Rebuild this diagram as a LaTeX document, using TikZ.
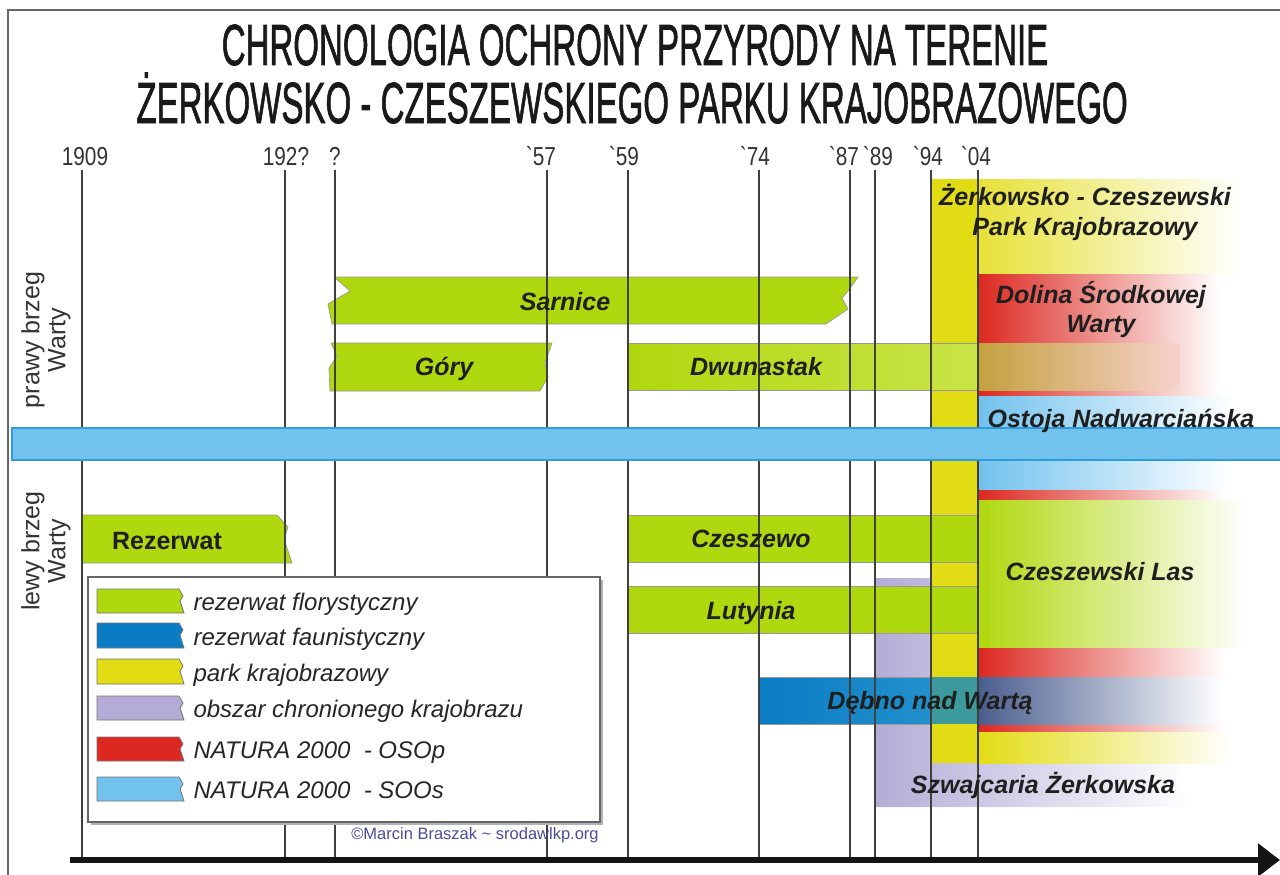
\documentclass[tikz,border=0pt]{standalone}
\usepackage{fontspec}
\usepackage{graphicx}
\setmainfont{Liberation Sans}
\newfontfamily\yearfont[FakeStretch=0.8,Ligatures=TeXOff]{Liberation Sans}
\newfontfamily\titlefont[FakeBold=1.6]{Liberation Sans}
\usetikzlibrary{arrows.meta}
\definecolor{cgreen}{HTML}{B0D80E}
\definecolor{cgreenlt}{HTML}{C8E448}
\definecolor{cfauna}{HTML}{0A7CC4}
\definecolor{cfaunalt}{HTML}{2290CC}
\definecolor{cteal}{HTML}{3C9A9C}
\definecolor{cslate}{HTML}{4A5E8E}
\definecolor{cslatelt}{HTML}{62708E}
\definecolor{cyellow}{HTML}{E2DC14}
\definecolor{clav}{HTML}{B4ACD6}
\definecolor{cred}{HTML}{DC2820}
\definecolor{csky}{HTML}{72C2EE}
\definecolor{cskyb}{HTML}{2E9CDC}
\definecolor{cgrey}{HTML}{A2A8B8}
\definecolor{ctan}{HTML}{C4A03E}
\definecolor{ctanlt}{HTML}{CCAE54}
\definecolor{cpink}{HTML}{F6D2CC}
\definecolor{colive}{HTML}{C6BC48}
\definecolor{ccopy}{HTML}{4B4BA0}
\begin{document}
\begin{tikzpicture}[x=1pt,y=-1pt,
  bar/.style={draw=black!40, line width=0.7},
  vline/.style={draw=black!75, line width=1.2},
  barlabel/.style={anchor=base, font=\fontsize{25}{27}\selectfont\bfseries\itshape, text=black!88},
  reglabel/.style={anchor=base, font=\fontsize{25}{27}\selectfont\bfseries, text=black!88},
  legtext/.style={anchor=base west, font=\fontsize{24}{27}\selectfont\itshape, text=black!85},
  yearlab/.style={anchor=base, font=\yearfont\fontsize{26}{28}\selectfont, text=black!80},
  sidelab/.style={rotate=90, align=center, font=\fontsize{25}{26}\selectfont, text=black!80},
  titlelab/.style={anchor=base, font=\titlefont\fontsize{58}{60}\selectfont, text=black!90},
  swatch/.style={draw=black!55, line width=0.8},
  fadeto/.style={left color=#1, middle color=#1!75!white, right color=white},
]
\useasboundingbox (0,0) rectangle (1280,875);
% frame
\draw[black!60, line width=1.5] (8,875) -- (8,10) -- (1280,10);

% title
\node[titlelab] (title1) at (635,65) {\scalebox{0.57}[1]{CHRONOLOGIA OCHRONY PRZYRODY NA TERENIE}};
\node[titlelab] (title2) at (632,123) {\scalebox{0.57}[1]{ŻERKOWSKO - CZESZEWSKIEGO PARKU KRAJOBRAZOWEGO}};

% right-side regions
\path[left color=cyellow, middle color=cyellow!80!white, right color=white] (931,179) rectangle (1240,274);
\path[left color=cred, middle color=cred!65!white, right color=white] (978,274) rectangle (1220,396);
\path[left color=csky, middle color=cgrey, right color=white] (978,396) rectangle (1235,428);
\path[left color=clav, middle color=clav!70!white, right color=white]
  (875,578) -- (931,578) -- (931,763) -- (1183,763) -- (1176,781) -- (1193,807) -- (875,807) -- cycle;
\fill[cyellow] (931,179) rectangle (978,763);
\path[left color=csky, middle color=cgrey, right color=white] (978,460) rectangle (1232,490);
\path[left color=cred, middle color=cred!65!white, right color=white] (978,490) rectangle (1225,733);
\path[left color=cgreen, middle color=colive, right color=white] (978,500) rectangle (1247,647);
\path[fadeto=cyellow] (978,732) rectangle (1232,763);

% green bars
\path[bar, fill=cgreen] (334,277) -- (858,277) -- (849,290) -- (842,298) -- (848,309) -- (826,324)
  -- (332,324) -- (328,304) -- (350,291) -- cycle;
\path[bar, fill=cgreen] (331,343) -- (552,343) -- (545,363) -- (548,377) -- (540,391)
  -- (330,391) -- (329,368) -- (337,356) -- cycle;
\path[bar, left color=cgreen, right color=cgreenlt] (628,343) rectangle (978,390);
\path[left color=ctan, middle color=ctanlt, right color=cpink] (978,343) rectangle (1180,390);
\path[bar, fill=cgreen] (82,515) -- (277,515) -- (288,527) -- (284,539) -- (292,563) -- (82,563) -- cycle;
\path[bar, fill=cgreen] (628,515) rectangle (978,562);
\path[bar, fill=cgreen] (628,586) rectangle (978,633);

% Debno
\path[bar, left color=cfauna, right color=cfaunalt] (759,677) rectangle (931,724);
\fill[cteal] (931,677) rectangle (978,724);
\path[left color=cslate, middle color=cslatelt, right color=white] (978,677) rectangle (1222,724);

% year labels and lines
\node[yearlab] (y1909) at (85,165) {1909};
\node[yearlab] (y192) at (286,165) {192?};
\node[yearlab] (yq) at (335,165) {?};
\node[yearlab] (y57) at (541,165) {`57};
\node[yearlab] (y59) at (624,165) {`59};
\node[yearlab] (y74) at (755,165) {`74};
\node[yearlab] (y87) at (844,165) {`87};
\node[yearlab] (y89) at (878,165) {`89};
\node[yearlab] (y94) at (928,165) {`94};
\node[yearlab] (y04) at (976,165) {`04};
\foreach \x in {82,285,335,547,628,759,850,875,931,978}
  \draw[vline] (\x,170) -- (\x,857);

% river
\path[fill=csky, draw=cskyb, line width=1.5] (12,428) rectangle (1282,460);

% axis
\draw[black!92, line width=6, -{Triangle[length=22,width=32]}] (70,860) -- (1280,860);

% side labels
\node[sidelab] (prawy) at (46,340) {prawy brzeg\\Warty};
\node[sidelab] (lewy) at (46,551) {lewy brzeg\\Warty};

% legend
\fill[black!30] (91,580) rectangle (603,825);
\draw[fill=white, draw=black!60, line width=1.5] (88,577) rectangle (600,822);
\foreach \t/\b/\c/\lab [count=\i] in {589/613/cgreen/rezerwat florystyczny,
    623/648/cfauna/rezerwat faunistyczny,
    659/684/cyellow/park krajobrazowy,
    696/720/clav/obszar chronionego krajobrazu,
    737/761/cred/NATURA 2000~~- OSOp,
    777/801/csky/NATURA 2000~~- SOOs}{
  \path[swatch, fill=\c] (97,\t) -- (179,\t) -- (183,\t+7) -- (180,\t+12) -- (184,\b) -- (97,\b) -- cycle;
  \node[legtext] (leg\i) at (190,\b-3) {\lab};
}
\node[font=\fontsize{16.5}{18}\selectfont, text=ccopy] (copy) at (475,835) {©Marcin Braszak \textasciitilde{} srodawlkp.org};

% labels
\node[barlabel] (zpk1) at (1085,205) {Żerkowsko - Czeszewski};
\node[barlabel] (zpk2) at (1085,235) {Park Krajobrazowy};
\node[barlabel] (dsw1) at (1101,303) {Dolina Środkowej};
\node[barlabel] (dsw2) at (1101,332) {Warty};
\node[barlabel] (sarnice) at (565,310) {Sarnice};
\node[barlabel] (gory) at (444,375) {Góry};
\node[barlabel] (dwun) at (756,375) {Dwunastak};
\node[barlabel] (ostoja) at (1121,427) {Ostoja Nadwarciańska};
\node[reglabel] (rez) at (167,549) {Rezerwat};
\node[barlabel] (czesz) at (751,547) {Czeszewo};
\node[barlabel] (czlas) at (1100,580) {Czeszewski Las};
\node[barlabel] (luty) at (751,619) {Lutynia};
\node[barlabel] (debno) at (930,709) {Dębno nad Wartą};
\node[barlabel] (szwaj) at (1043,793) {Szwajcaria Żerkowska};
\end{tikzpicture}
\end{document}
